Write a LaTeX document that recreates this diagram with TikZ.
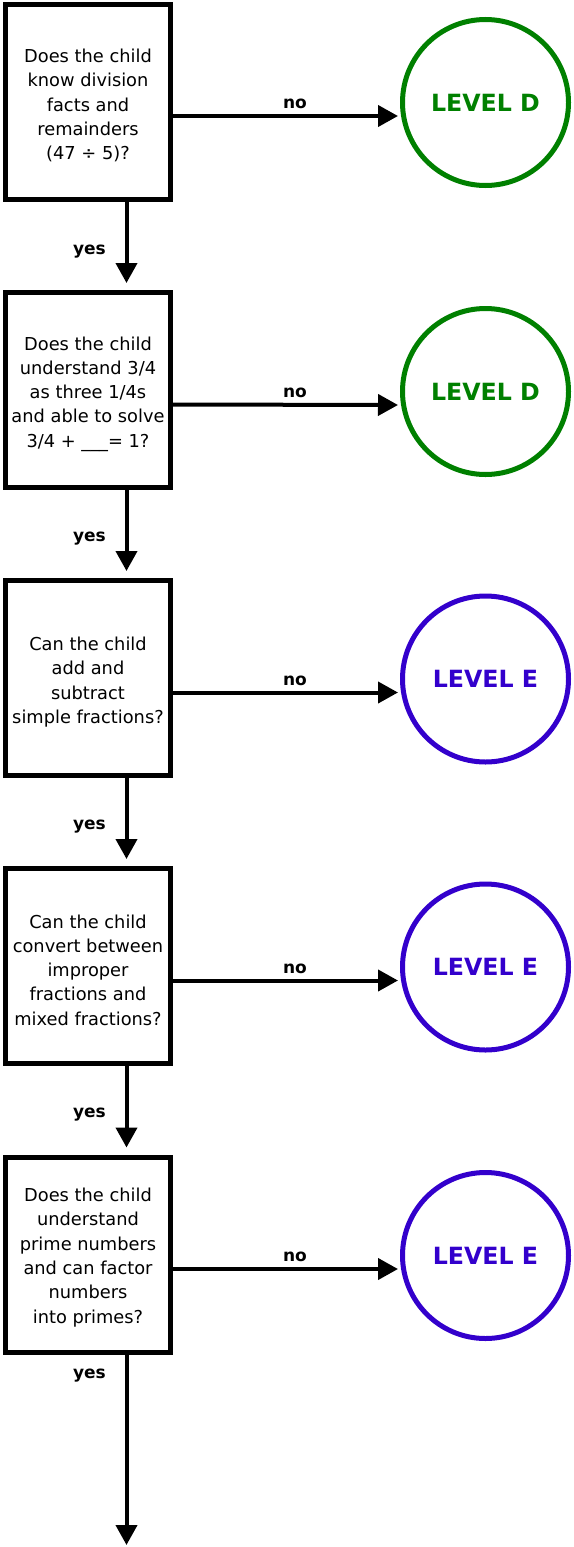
\documentclass[tikz,border=0pt]{standalone}
\usepackage{fontspec}
\setmainfont{DejaVu Sans}
\usetikzlibrary{arrows.meta}
\definecolor{lvlgreen}{HTML}{008000}
\definecolor{lvlblue}{HTML}{3300CC}
\begin{document}
\begin{tikzpicture}[x=1pt,y=-1pt,
  question/.style={draw, line width=5pt, rectangle, minimum width=165pt, minimum height=195pt, inner sep=0pt},
  qtext/.style={inner sep=0pt, align=center, font=\fontsize{17.8}{24.3}\selectfont},
  level/.style={draw, circle, line width=5pt, minimum size=166pt, inner sep=0pt, font=\fontsize{23.7}{28}\selectfont\bfseries},
  green level/.style={level, draw=lvlgreen, text=lvlgreen},
  blue level/.style={level, draw=lvlblue, text=lvlblue},
  arr/.style={line width=4pt, -{Triangle[length=20pt,width=21pt]}},
  lbl/.style={font=\fontsize{17}{20}\selectfont\bfseries, inner sep=0pt}]
\useasboundingbox (0,0) rectangle (573,1547);

\node[question] (b1) at (88,101.5) {};
\node[question] (b2) at (88,390) {};
\node[question] (b3) at (88,678) {};
\node[question] (b4) at (88,966) {};
\node[question] (b5) at (88,1254.5) {};

\node[qtext] (t1) at ([yshift=-4pt]b1.center) {Does the child\\know division\\facts and\\remainders\\(47 ÷ 5)?};
\node[qtext] (t2) at ([yshift=-4pt]b2.center) {Does the child\\understand 3/4\\as three 1/4s\\and able to solve\\3/4 + \_\_\_= 1?};
\node[qtext] (t3) at ([yshift=-4pt]b3.center) {Can the child\\add and\\subtract\\simple fractions?};
\node[qtext] (t4) at ([yshift=-4pt]b4.center) {Can the child\\convert between\\improper\\fractions and\\mixed fractions?};
\node[qtext] (t5) at ([yshift=-3pt]b5.center) {Does the child\\understand\\prime numbers\\and can factor\\numbers\\into primes?};

\node[green level] (c1) at (485.5,102.5) {LEVEL D};
\node[green level] (c2) at (485.5,391.5) {LEVEL D};
\node[blue level] (c3) at (485.5,679) {LEVEL E};
\node[blue level] (c4) at (485.5,967) {LEVEL E};
\node[blue level] (c5) at (485.5,1255.5) {LEVEL E};

\foreach \i in {1,...,5}{
  \draw[arr] ([yshift=-14.5pt]b\i.east) -- ([xshift=-2pt,yshift=-13.5pt]c\i.west)
    node[lbl, midway, xshift=9.5pt, yshift=12pt] (no\i) {no};
}

\draw[arr] ([xshift=38.5pt]b1.south) -- ([xshift=38.5pt,yshift=7pt]b2.north)
  node[lbl, pos=0.62, xshift=-37pt] (yes1) {yes};
\draw[arr] ([xshift=38.5pt]b2.south) -- ([xshift=38.5pt,yshift=7pt]b3.north)
  node[lbl, pos=0.6, xshift=-37pt] (yes2) {yes};
\draw[arr] ([xshift=38.5pt]b3.south) -- ([xshift=38.5pt,yshift=7pt]b4.north)
  node[lbl, pos=0.6, xshift=-37pt] (yes3) {yes};
\draw[arr] ([xshift=38.5pt]b4.south) -- ([xshift=38.5pt,yshift=7pt]b5.north)
  node[lbl, pos=0.6, xshift=-37pt] (yes4) {yes};
\coordinate (end) at (126.5,1545);
\draw[arr] ([xshift=38.5pt]b5.south) -- (end)
  node[lbl, pos=0.11, xshift=-37pt] (yes5) {yes};
\end{tikzpicture}
\end{document}
